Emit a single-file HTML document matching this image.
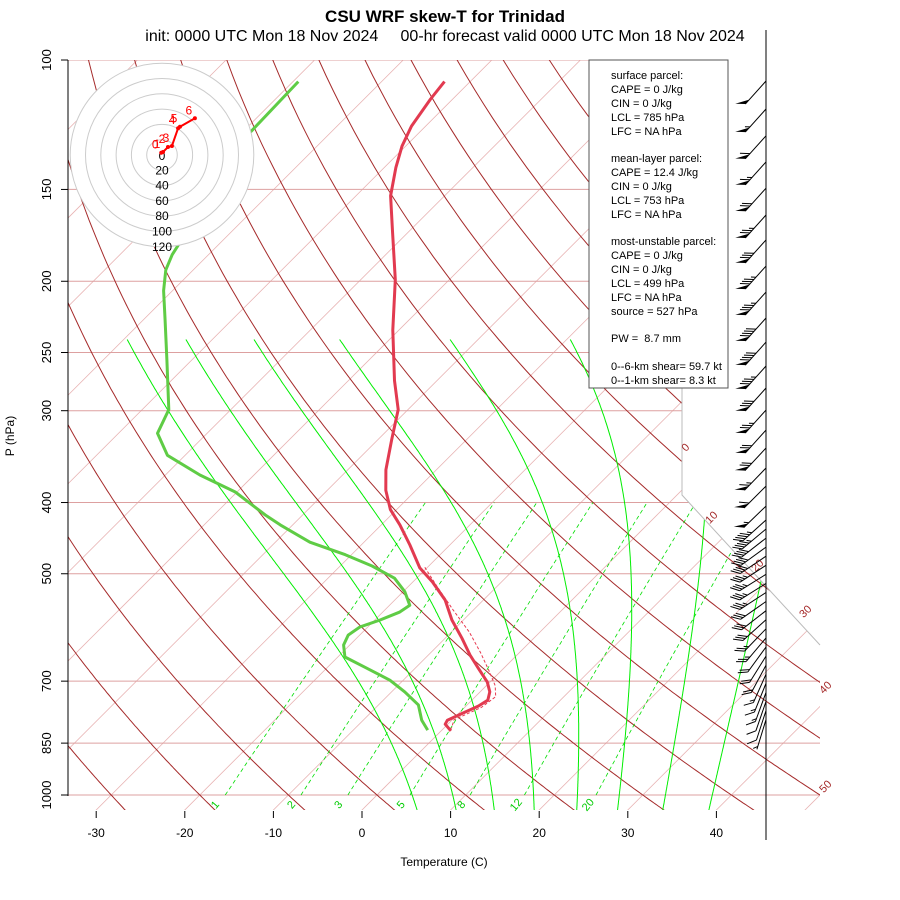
<!DOCTYPE html>
<html><head><meta charset="utf-8"><style>
body{margin:0;background:#fff}
svg{display:block;font-family:"Liberation Sans",sans-serif}
</style></head><body>
<svg id="c" width="900" height="900" viewBox="0 0 900 900">
<defs><clipPath id="clip"><polygon points="68,60 682,60 682,495 820,645 820,810 68,810"/></clipPath></defs>
<rect width="900" height="900" fill="#fff"/>
<g id="grid" clip-path="url(#clip)"></g>
<g id="traces"></g>
<g id="axes"></g>
<g id="barbs"></g>
<g id="hodo"></g>
<text x="445" y="22" text-anchor="middle" font-size="17" font-weight="bold">CSU WRF skew-T for Trinidad</text>
<text x="445" y="41" text-anchor="middle" font-size="16" xml:space="preserve">init: 0000 UTC Mon 18 Nov 2024     00-hr forecast valid 0000 UTC Mon 18 Nov 2024</text>
<text x="444" y="866" text-anchor="middle" font-size="12">Temperature (C)</text>
<text transform="translate(14,436) rotate(-90)" text-anchor="middle" font-size="12">P (hPa)</text>
<g font-size="11">
<rect x="589" y="60" width="139" height="328" fill="#fff" stroke="#555"/>
<text x="611" y="79">
<tspan x="611" dy="0">surface parcel:</tspan>
<tspan x="611" dy="14">CAPE = 0 J/kg</tspan>
<tspan x="611" dy="14">CIN = 0 J/kg</tspan>
<tspan x="611" dy="14">LCL = 785 hPa</tspan>
<tspan x="611" dy="14">LFC = NA hPa</tspan>
<tspan x="611" dy="27">mean-layer parcel:</tspan>
<tspan x="611" dy="14">CAPE = 12.4 J/kg</tspan>
<tspan x="611" dy="14">CIN = 0 J/kg</tspan>
<tspan x="611" dy="14">LCL = 753 hPa</tspan>
<tspan x="611" dy="14">LFC = NA hPa</tspan>
<tspan x="611" dy="27">most-unstable parcel:</tspan>
<tspan x="611" dy="14">CAPE = 0 J/kg</tspan>
<tspan x="611" dy="14">CIN = 0 J/kg</tspan>
<tspan x="611" dy="14">LCL = 499 hPa</tspan>
<tspan x="611" dy="14">LFC = NA hPa</tspan>
<tspan x="611" dy="14">source = 527 hPa</tspan>
<tspan x="611" dy="27" xml:space="preserve">PW =  8.7 mm</tspan>
<tspan x="611" dy="28">0--6-km shear= 59.7 kt</tspan>
<tspan x="611" dy="14">0--1-km shear= 8.3 kt</tspan>
</text></g>
</svg>
<script>
const pTicks=[100,150,200,250,300,400,500,700,850,1000];
const tTicks=[-30,-20,-10,0,10,20,30,40];
const thetas=[-40,-30,-20,-10,0,10,20,30,40,50,60,70,80,90,100,110,120,130,140,150,160,170,180,190,200,210,220];
const isotherms=[-130,-120,-110,-100,-90,-80,-70,-60,-50,-40,-30,-20,-10,0,10,20,30,40,50];
const moistStarts=[6.3,10.7,15,19.5,24.3,28.9,34,39.2];
const mixRatios=[1,2,3,5,8,12,20];
const tempP=[107,113,123,131,140,153,170,199,233,273,299,329,361,385,409,429,457,491,513,543,578,612,645,672,702,724,743,757,771,791,801,818];
const tempT=[-72.9,-72.5,-71.6,-70.4,-68.7,-66.1,-62.1,-56.1,-50.7,-44.8,-41.1,-38.4,-35.7,-33.4,-30.7,-27.9,-24.5,-20.8,-17.8,-14.3,-11.3,-8.1,-5.3,-2.9,-0.3,1.1,1.8,1.4,0.6,-0.5,-0.3,1.1];
const dewP=[107,126,184,193,206,226,256,299,322,345,367,387,416,429,453,471,488,507,529,552,564,578,591,606,625,649,670,698,724,754,791,816];
const dewT=[-89.4,-89.1,-84.1,-83.1,-81.0,-77.5,-72.8,-67.0,-65.6,-62.0,-56.1,-50.2,-44.2,-41.4,-36.1,-30.7,-26.4,-22.5,-19.8,-17.7,-18.1,-19.4,-20.9,-21.3,-20.7,-19.2,-15.8,-11.5,-8.5,-5.5,-3.4,-1.6];
const parcelP=[490,520,560,600,640,680,710,735,760,790,812];
const parcelT=[-20.3,-16.8,-12.3,-8.0,-4.4,-1.2,1.0,2.3,1.9,0.2,0.9];
const barbP=[106.8,116.6,126.8,137.6,149.4,162.5,175.7,190.7,206.9,224.4,242,260.8,279.4,299.4,318.8,337.2,359,379.9,404.5,422.5,434.6,447.1,460,473.2,486.9,500.9,515.4,530.2,545.5,561.3,577.5,594.1,611.3,628.9,647.1,665.8,685,704.8,725.1,746.1,767.6,789.8];
const barbSpd=[50,55,60,65,70,75,80,85,85,90,90,85,80,75,70,70,65,60,55,45,45,40,40,40,35,35,35,35,30,30,30,25,25,20,20,20,15,15,15,10,10,5];
const barbDir=[222,222,222,222,222,222,222,222,222,222,222,222,222,222,222,223,224,225,226,228,230,232,234,236,237,238,238,237,235,232,228,224,220,216,212,208,204,202,200,199,198,197];
const hodoKm=["0","1","2","3","4","5","6"];
const hodoU=[-1,1.3,7.8,13,21,23.5,43];
const hodoV=[3,3.9,10.5,11.8,35,37,48];
const hodoRings=[20,40,60,80,100,120];

const NS='http://www.w3.org/2000/svg';
const yP=p=>795-319.2*Math.log(1000/p);
const xT=(T,p)=>362+8.86*T+(810-yP(p));
function mk(tag,parent,attrs){const e=document.createElementNS(NS,tag);for(const k in attrs)e.setAttribute(k,attrs[k]);parent.appendChild(e);return e;}
function pathD(pts){return pts.map((q,i)=>(i?'L':'M')+q[0].toFixed(1)+','+q[1].toFixed(1)).join('');}
const grid=document.getElementById('grid'),traces=document.getElementById('traces'),axes=document.getElementById('axes'),barbs=document.getElementById('barbs'),hodo=document.getElementById('hodo');

isotherms.forEach(T=>{const e=mk('path',grid,{d:pathD([[xT(T,1060),yP(1060)],[xT(T,95),yP(95)]]),stroke:'#e8b4b4','stroke-width':0.8,fill:'none'});

});
pTicks.concat([1050]).forEach(p=>{const e=mk('path',grid,{d:pathD([[68,yP(p)],[820,yP(p)]]),stroke:'#dda0a0','stroke-width':1,fill:'none'});

});
thetas.forEach(th=>{const pts=[];for(let p=1060;p>=95;p-=5){const T=(th+273.15)*Math.pow(p/1000,0.284)-273.15;pts.push([xT(T,p),yP(p)]);}
const e=mk('path',grid,{d:pathD(pts),stroke:'#a52a2a','stroke-width':1,fill:'none'});

});
function es(Tc){return 6.112*Math.exp(17.67*Tc/(Tc+243.5));}
moistStarts.forEach(T0=>{let T=T0+273.15;const pts=[];for(let p=1050;p>=240;p-=2){pts.push([xT(T-273.15,p),yP(p)]);const e=es(T-273.15);const rs=0.622*e/(p-e);const L=2.5e6,Rd=287,cp=1005;const dTdp=(Rd*T+L*rs)/(p*(cp+L*L*rs*0.622/(Rd*T*T)));T-=dTdp*2;}
const e=mk('path',grid,{d:pathD(pts),stroke:'#00ee00','stroke-width':1,fill:'none'});

});
function tdw(w,p){const e=p*w/(622+w);const l=Math.log(e/6.112);return 243.5*l/(17.67-l);}
mixRatios.forEach(w=>{const pts=[];for(let p=1000;p>=400;p-=10)pts.push([xT(tdw(w,p),p),yP(p)]);
const e=mk('path',grid,{d:pathD(pts),stroke:'#00dd00','stroke-width':0.8,'stroke-dasharray':'4,3',fill:'none'});


const x=xT(tdw(w,1050),1050)+3;const t=mk('text',axes,{transform:`translate(${x.toFixed(1)},807) rotate(-50)`,'font-size':11,fill:'#00cc00','text-anchor':'middle'});t.textContent=w;

});
mk('path',axes,{d:'M682,380L682,495L820,645',stroke:'#bbb','stroke-width':1,fill:'none',});
[[0,688,450],[10,714,520],[20,760,568],[30,808,614],[40,828,690],[50,828,789]].forEach(a=>{const t=mk('text',axes,{transform:`translate(${a[1]},${a[2]}) rotate(-45)`,'font-size':11,fill:'#a52a2a','text-anchor':'middle'});t.textContent=a[0];

});
function trace(P,T,attrs,name){const e=mk('path',traces,Object.assign({d:pathD(P.map((p,i)=>[xT(T[i],p),yP(p)])),fill:'none','stroke-linejoin':'round'},attrs));

}
trace(parcelP,parcelT,{stroke:'#e8384f','stroke-width':1,'stroke-dasharray':'3,2'},'parcel-trace');
trace(dewP,dewT,{stroke:'#5fcc45','stroke-width':3},'dewpoint-trace');
trace(tempP,tempT,{stroke:'#e23a50','stroke-width':3},'temperature-trace');
mk('path',axes,{d:'M68,60L68,796',stroke:'#000','stroke-width':1,});
pTicks.forEach(p=>{const y=yP(p);mk('path',axes,{d:`M61,${y}L68,${y}`,stroke:'#000'});
const t=mk('text',axes,{transform:`translate(51,${y.toFixed(1)}) rotate(-90)`,'font-size':13,'text-anchor':'middle'});t.textContent=p;

});
tTicks.forEach(T=>{const x=362+8.86*T;mk('path',axes,{d:`M${x},811L${x},818`,stroke:'#000'});
const t=mk('text',axes,{x:x,y:837,'font-size':12,'text-anchor':'middle'});t.textContent=T;

});
mk('path',axes,{d:'M766,30L766,840',stroke:'#000','stroke-width':1,});
barbP.forEach((p,i)=>{const y0=yP(p),x0=766,L=31;const a=barbDir[i]*Math.PI/180;
const dX=Math.sin(a), dY=-Math.cos(a);
const ex=x0+dX*L, ey=y0+dY*L;
const g=mk('g',barbs,{});


mk('path',g,{d:`M${x0},${y0.toFixed(1)}L${ex.toFixed(1)},${ey.toFixed(1)}`,stroke:'#000','stroke-width':1});
const rot=50*Math.PI/180;const bx=dX*Math.cos(rot)-dY*Math.sin(rot), by=dX*Math.sin(rot)+dY*Math.cos(rot);
let s=barbSpd[i],pos=0;
while(s>=50){const ax=ex-dX*pos,ay=ey-dY*pos;const cx=ex-dX*(pos+6),cy=ey-dY*(pos+6);
mk('polygon',g,{points:`${ax},${ay} ${cx},${cy} ${ax+bx*10},${ay+by*10}`,fill:'#000'});pos+=7;s-=50;}
while(s>=10){const ax=ex-dX*pos,ay=ey-dY*pos;mk('path',g,{d:`M${ax},${ay}L${ax+bx*10},${ay+by*10}`,stroke:'#000'});pos+=3;s-=10;}
if(s>=5){if(pos===0)pos=3;const ax=ex-dX*pos,ay=ey-dY*pos;mk('path',g,{d:`M${ax},${ay}L${ax+bx*5},${ay+by*5}`,stroke:'#000'});}
});
const hx=162,hy=155,hs=0.765;
mk('circle',hodo,{cx:hx,cy:hy,r:hodoRings[hodoRings.length-1]*hs,fill:'#fff',stroke:'none'});
hodoRings.forEach(r=>{const c=mk('circle',hodo,{cx:hx,cy:hy,r:r*hs,fill:'none',stroke:'#ccc','stroke-width':1});


const t=mk('text',hodo,{x:hx,y:hy+r*hs+4,'font-size':12,'text-anchor':'middle'});t.textContent=r;

});
const t0=mk('text',hodo,{x:hx,y:hy+5,'font-size':12,'text-anchor':'middle'});t0.textContent='0';


const hp=hodoU.map((u,i)=>[hx+u*hs,hy-hodoV[i]*hs]);
const hl=mk('path',hodo,{d:pathD(hp),stroke:'#f00','stroke-width':2,fill:'none'});


hp.forEach((q,i)=>{const c=mk('circle',hodo,{cx:q[0],cy:q[1],r:2,fill:'#f00'});


const t=mk('text',hodo,{x:q[0]-6,y:q[1]-4,'font-size':12,fill:'#f00','text-anchor':'middle'});t.textContent=hodoKm[i];

});
</script>
</body></html>
